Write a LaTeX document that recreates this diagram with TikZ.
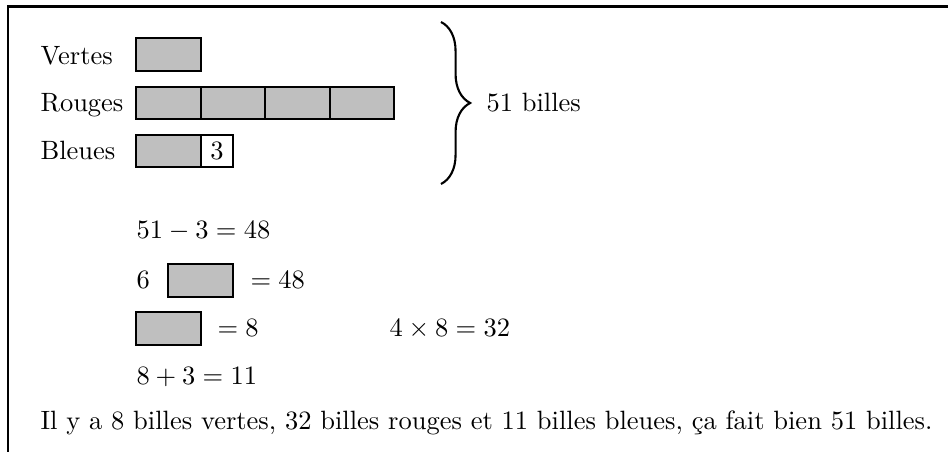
\documentclass[tikz,border=0pt]{standalone}
\usepackage{amsmath}
\usepackage{tikz}
\usetikzlibrary{decorations.pathreplacing}

\tikzset{
  bar/.style={draw,thick,fill=lightgray},
  cell/.style={draw,thick,fill=white},
  txt/.style={anchor=base west,inner sep=0pt}
}

\begin{document}
\begin{tikzpicture}[x=0.3776pt,y=-0.3776pt]
\useasboundingbox (0,0) rectangle (948,452);
\draw[thick] (8,456) -- (8,6.5) -- (952,6.5);
% bandes
\node[txt] (vertes) at (40,65) {Vertes};
\node[txt] (rouges) at (40,112) {Rouges};
\node[txt] (bleues) at (40,160) {Bleues};
\draw[bar] (136,38) rectangle (201,71);
\draw[bar] (136,87) rectangle (201,119);
\draw[bar] (201,87) rectangle (265,119);
\draw[bar] (265,87) rectangle (330,119);
\draw[bar] (330,87) rectangle (394,119);
\draw[bar] (136,135) rectangle (201,167);
\draw[cell] (201,135) rectangle (233,167);
\node (trois) at (217,151) {3};
\coordinate (haut) at (441,22);
\coordinate (bas) at (441,184);
\draw[thick,decorate,decoration={brace,amplitude=11pt}] (haut) -- (bas);
\node[txt] (total) at (486,112) {51 billes};
% calculs
\node[txt] (calcA) at (136,239) {\(51-3=48\)};
\node[txt] (six) at (136,289) {\(6\)};
\draw[bar] (168,264) rectangle (233,297);
\node[txt] (calcB) at (250,289) {\(=48\)};
\draw[bar] (136,312) rectangle (201,345);
\node[txt] (calcC) at (217,336.5) {\(=8\)};
\node[txt] (calcD) at (389,336.5) {\(4\times 8=32\)};
\node[txt] (calcE) at (136,384.5) {\(8+3=11\)};
\node[txt] (phrase) at (40,430) {Il y a 8 billes vertes, 32 billes rouges et 11 billes bleues, ça fait bien 51 billes.};
\end{tikzpicture}
\end{document}
